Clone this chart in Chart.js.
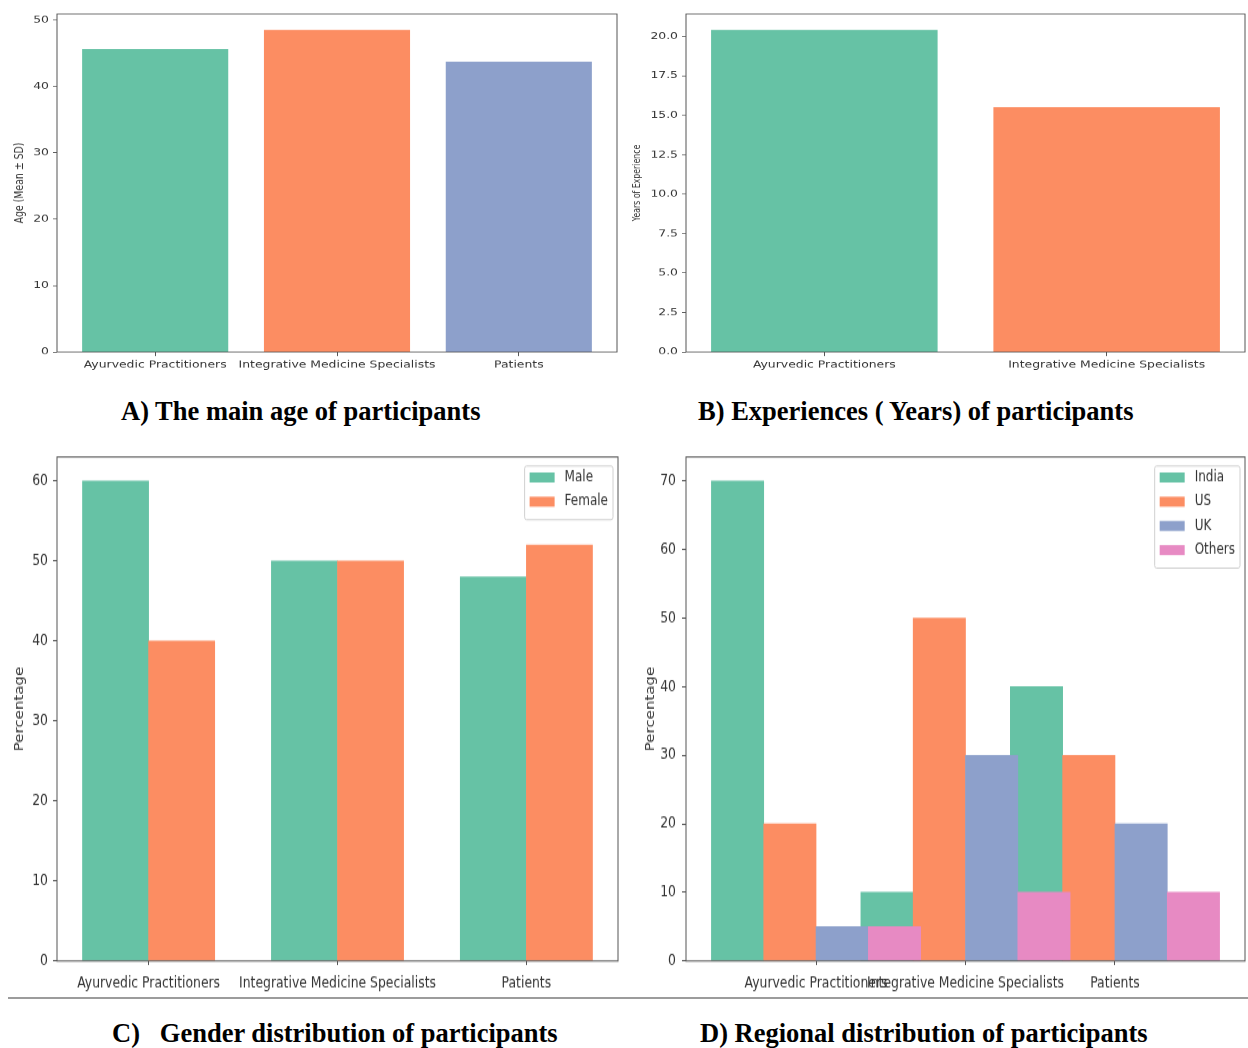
<!DOCTYPE html>
<html>
<head>
<meta charset="utf-8">
<title>Participant characteristics</title>
<script src="https://cdn.jsdelivr.net/npm/chart.js@4.4.1/dist/chart.umd.min.js"></script>
<style>
  html, body { margin: 0; padding: 0; background: #fff; }
  #page { position: relative; width: 1248px; height: 1048px; overflow: hidden; background: #fff; }
  #page canvas { position: absolute; }
  .caption {
    position: absolute;
    font-family: "Liberation Serif", "Times New Roman", serif;
    font-weight: bold;
    font-size: 26.5px;
    line-height: 30px;
    color: #000;
    white-space: pre;
  }
  .rule { position: absolute; left: 8px; right: 0; top: 997px; height: 2px; background: #9c9c9c; }
</style>
</head>
<body>
<div id="page">
  <canvas id="ageChart"></canvas>
  <canvas id="experienceChart"></canvas>
  <canvas id="genderChart"></canvas>
  <canvas id="regionChart"></canvas>
  <div class="caption" style="left:121px; top:396px;">A) The main age of participants</div>
  <div class="caption" style="left:698px; top:396px;">B) Experiences ( Years) of participants</div>
  <div class="rule"></div>
  <div class="caption" style="left:112px; top:1018px;">C)   Gender distribution of participants</div>
  <div class="caption" style="left:700px; top:1018px;">D) Regional distribution of participants</div>
</div>
<script>
// ---- data ----
const groups = ['Ayurvedic Practitioners', 'Integrative Medicine Specialists', 'Patients'];
const meanAge = [45.6, 48.5, 43.7];
const ageTicks = [0, 10, 20, 30, 40, 50];

const practitionerGroups = ['Ayurvedic Practitioners', 'Integrative Medicine Specialists'];
const experienceYears = [20.4, 15.5];
const experienceTicks = [0, 2.5, 5, 7.5, 10, 12.5, 15, 17.5, 20];

const genders = ['Male', 'Female'];
const malePct = [60, 50, 48];
const femalePct = [40, 50, 52];
const genderTicks = [0, 10, 20, 30, 40, 50, 60];

const regions = ['India', 'US', 'UK', 'Others'];
const indiaPct = [70, 10, 40];
const usPct = [20, 50, 30];
const ukPct = [5, 30, 20];
const othersPct = [5, 10, 10];
const regionTicks = [0, 10, 20, 30, 40, 50, 60, 70];

const set2 = ['#66c2a5', '#fc8d62', '#8da0cb', '#e78ac3'];

// ---- styling ----
const FONT = '"DejaVu Sans", "Liberation Sans", sans-serif';
const TICK_SIZE = 12.4;
const INK = '#333333';
const SPINE = '#555555';

// Box around the plotting area (all four spines).
const framePlugin = {
  id: 'frame',
  afterDraw(chart) {
    const { ctx, chartArea: a } = chart;
    ctx.save();
    ctx.strokeStyle = SPINE;
    ctx.lineWidth = 1;
    ctx.strokeRect(a.left, a.top, a.right - a.left, a.bottom - a.top);
    ctx.restore();
  }
};

// Framed legend in the upper-right corner of the plotting area.
const cornerLegendPlugin = {
  id: 'cornerLegend',
  afterDraw(chart, args, opts) {
    if (!opts.show) return;
    const { ctx, chartArea } = chart;
    const sy = opts.sy;
    const f = opts.fontSize;
    ctx.save();
    ctx.font = `${f}px ${FONT}`;
    const items = chart.data.datasets.map(ds => ({ text: ds.label, color: ds.backgroundColor }));
    const textW = Math.max(...items.map(it => ctx.measureText(it.text).width));
    const patchW = 25, gap = 10, padX = 5;
    const padTop = 11.5 / sy, step = 24.2 / sy, padBottom = 18 / sy, patchH = 10 / sy;
    const w = padX + patchW + gap + textW + padX;
    const h = padTop + (items.length - 1) * step + padBottom;
    const right = chartArea.right - 5;
    const top = chartArea.top + 9 / sy;
    const left = right - w;
    ctx.fillStyle = 'rgba(255,255,255,0.85)';
    ctx.strokeStyle = '#d0d0d0';
    ctx.lineWidth = 1;
    ctx.beginPath();
    ctx.roundRect(left, top, w, h, 2);
    ctx.fill();
    ctx.stroke();
    ctx.textAlign = 'left';
    ctx.textBaseline = 'middle';
    items.forEach((it, i) => {
      const cy = top + padTop + i * step;
      ctx.fillStyle = it.color;
      ctx.fillRect(left + padX, cy - patchH / 2, patchW, patchH);
      ctx.fillStyle = INK;
      ctx.fillText(it.text, left + padX + patchW + gap, cy);
    });
    ctx.restore();
  }
};

function buildPanel(cfg) {
  const canvas = document.getElementById(cfg.id);
  const H = Math.round(cfg.h / cfg.sy);
  canvas.width = cfg.w;
  canvas.height = H;
  canvas.style.left = cfg.left + 'px';
  canvas.style.top = cfg.top + 'px';
  canvas.style.width = cfg.w + 'px';
  canvas.style.height = cfg.h + 'px';

  // Axis limits with a 5% margin, as the bars start at zero.
  let lo = Infinity, hi = -Infinity, vmax = 0;
  cfg.series.forEach(s => {
    s.pos.forEach((p, i) => {
      lo = Math.min(lo, p - s.width / 2);
      hi = Math.max(hi, p + s.width / 2);
      vmax = Math.max(vmax, s.values[i]);
    });
  });
  const span = hi - lo;
  const xMin = lo - 0.05 * span;
  const xMax = hi + 0.05 * span;
  const yMax = vmax * 1.05;

  const xAxisHeight = (cfg.h - cfg.plot.bottom) / cfg.sy;
  const titleLine = cfg.yTitleSize * 1.2;

  const chart = new Chart(canvas, {
    type: 'bar',
    data: {
      datasets: cfg.series.map((s, k) => ({
        label: s.label,
        data: s.values.map((v, i) => ({ x: s.pos[i], y: v })),
        backgroundColor: s.color,
        borderWidth: 0,
        grouped: false,
        order: cfg.series.length - 1 - k,
        unitWidth: s.width
      }))
    },
    options: {
      responsive: false,
      animation: false,
      devicePixelRatio: 1,
      events: [],
      layout: { padding: { left: 0, right: cfg.w - cfg.plot.right, top: cfg.plot.top / cfg.sy, bottom: 0 } },
      plugins: {
        legend: { display: false },
        tooltip: { enabled: false },
        cornerLegend: { show: !!cfg.legend, sy: cfg.sy, fontSize: 12 }
      },
      scales: {
        x: {
          type: 'linear',
          min: xMin,
          max: xMax,
          offset: false,
          border: { display: false },
          grid: { offset: false, drawOnChartArea: false, drawTicks: true, tickLength: 4 / cfg.sy, color: SPINE, tickColor: SPINE },
          afterBuildTicks: axis => { axis.ticks = cfg.xTicks.map(v => ({ value: v })); },
          afterFit: axis => { axis.height = xAxisHeight; },
          ticks: {
            autoSkip: false, maxRotation: 0, minRotation: 0,
            padding: cfg.xPad, color: INK,
            font: { family: FONT, size: TICK_SIZE },
            callback: (v, i) => cfg.xLabels[i]
          }
        },
        y: {
          type: 'linear',
          min: 0,
          max: yMax,
          border: { display: false },
          grid: { drawOnChartArea: false, drawTicks: true, tickLength: 4, color: SPINE, tickColor: SPINE },
          afterBuildTicks: axis => { axis.ticks = cfg.yTicks.map(v => ({ value: v })); },
          afterFit: axis => { axis.width = cfg.plot.left; },
          ticks: {
            padding: cfg.yPad, color: INK,
            font: { family: FONT, size: TICK_SIZE },
            callback: v => cfg.yFormat(v)
          },
          title: {
            display: true,
            text: cfg.yTitle,
            color: INK,
            font: { family: FONT, size: cfg.yTitleSize, lineHeight: 1.2 },
            padding: { top: cfg.yTitleX - titleLine / 2, bottom: 0 }
          }
        }
      }
    },
    plugins: [framePlugin, cornerLegendPlugin]
  });

  // Bar widths are given in axis units; convert through the x scale.
  const xs = chart.scales.x;
  chart.data.datasets.forEach(ds => {
    ds.barThickness = Math.abs(xs.getPixelForValue(ds.unitWidth) - xs.getPixelForValue(0));
  });
  chart.update('none');
  return chart;
}

const idx = groups.map((g, i) => i);
const intFmt = v => String(v);
const oneDecimal = v => v.toFixed(1);

// A) mean age per group
buildPanel({
  id: 'ageChart', left: 0, top: 0, w: 620, h: 380, sy: 0.78,
  plot: { left: 57, right: 617, top: 14, bottom: 352 },
  series: [{ label: 'Age', pos: idx, values: meanAge, width: 0.8, color: set2.slice(0, 3) }],
  xTicks: idx, xLabels: groups, xPad: 4.5,
  yTicks: ageTicks, yFormat: intFmt, yPad: 4,
  yTitle: 'Age (Mean ± SD)', yTitleSize: 12, yTitleX: 20
});

// B) years of experience
const pIdx = practitionerGroups.map((g, i) => i);
buildPanel({
  id: 'experienceChart', left: 620, top: 0, w: 628, h: 380, sy: 0.78,
  plot: { left: 66, right: 625, top: 14, bottom: 352 },
  series: [{ label: 'Years', pos: pIdx, values: experienceYears, width: 0.8, color: set2.slice(0, 2) }],
  xTicks: pIdx, xLabels: practitionerGroups, xPad: 4.5,
  yTicks: experienceTicks, yFormat: oneDecimal, yPad: 4,
  yTitle: 'Years of Experience', yTitleSize: 10, yTitleX: 17
});

// C) gender split, two bars per group
const gWidth = 0.35;
buildPanel({
  id: 'genderChart', left: 0, top: 440, w: 620, h: 560, sy: 1.25,
  plot: { left: 57, right: 618, top: 17, bottom: 521 },
  series: [
    { label: genders[0], pos: idx.map(i => i - gWidth / 2), values: malePct, width: gWidth, color: set2[0] },
    { label: genders[1], pos: idx.map(i => i + gWidth / 2), values: femalePct, width: gWidth, color: set2[1] }
  ],
  xTicks: idx, xLabels: groups, xPad: 7,
  yTicks: genderTicks, yFormat: intFmt, yPad: 5,
  yTitle: 'Percentage', yTitleSize: 12, yTitleX: 20,
  legend: true
});

// D) regional split, four bars per group offset by one bar width each
const rWidth = 0.35;
const regionValues = [indiaPct, usPct, ukPct, othersPct];
buildPanel({
  id: 'regionChart', left: 620, top: 440, w: 628, h: 560, sy: 1.25,
  plot: { left: 66, right: 625, top: 17, bottom: 521 },
  series: regions.map((r, k) => ({
    label: r, pos: idx.map(i => i + k * rWidth), values: regionValues[k], width: rWidth, color: set2[k]
  })),
  xTicks: idx.map(i => i + 1.5 * rWidth), xLabels: groups, xPad: 7,
  yTicks: regionTicks, yFormat: intFmt, yPad: 6,
  yTitle: 'Percentage', yTitleSize: 12, yTitleX: 31,
  legend: true
});
</script>
</body>
</html>
